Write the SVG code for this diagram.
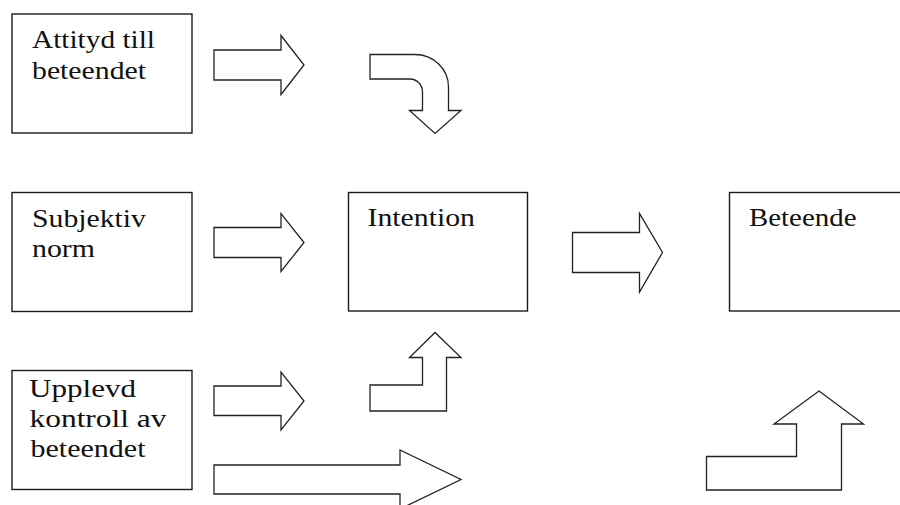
<svg xmlns="http://www.w3.org/2000/svg" width="900" height="505" viewBox="0 0 900 505">
<style>
.box{fill:#fff;stroke:#1a1a1a;stroke-width:1.4}
.arr{fill:#fff;stroke:#222;stroke-width:1.3;stroke-linejoin:miter}
text{font-family:"Liberation Serif","Times New Roman",serif;font-size:25px;fill:#111}
</style>
<rect width="900" height="505" fill="#fff"/>
<g id="attityd">
<rect class="box" x="12" y="14" width="180" height="119"/>
<text x="32" y="48" textLength="123" lengthAdjust="spacingAndGlyphs">Attityd till</text>
<text x="32" y="79" textLength="114" lengthAdjust="spacingAndGlyphs">beteendet</text>
</g>
<g id="subjektiv">
<rect class="box" x="12" y="192.5" width="180" height="119"/>
<text x="32" y="226.5" textLength="114" lengthAdjust="spacingAndGlyphs">Subjektiv</text>
<text x="32" y="257" textLength="63" lengthAdjust="spacingAndGlyphs">norm</text>
</g>
<g id="upplevd">
<rect class="box" x="12" y="370.5" width="180" height="119"/>
<text x="29" y="397" textLength="107" lengthAdjust="spacingAndGlyphs">Upplevd</text>
<text x="29.5" y="426.5" textLength="137" lengthAdjust="spacingAndGlyphs">kontroll av</text>
<text x="30.5" y="456.5" textLength="115" lengthAdjust="spacingAndGlyphs">beteendet</text>
</g>
<g id="intention">
<rect class="box" x="348.5" y="192.5" width="179" height="118.5"/>
<text x="367.5" y="225.5" textLength="107.5" lengthAdjust="spacingAndGlyphs">Intention</text>
</g>
<g id="beteende">
<rect class="box" x="729.5" y="192.5" width="180" height="118.5"/>
<text x="749" y="225.5" textLength="107.5" lengthAdjust="spacingAndGlyphs">Beteende</text>
</g>
<g id="connectors">
<polygon class="arr" points="214,50 281,50 281,35.5 304,65 281,94.5 281,80 214,80"/>
<polygon class="arr" points="214,227.5 281,227.5 281,213.5 304,242.5 281,271.5 281,257.5 214,257.5"/>
<polygon class="arr" points="214,386 281,386 281,372 304,401 281,430 281,415.5 214,415.5"/>
<polygon class="arr" points="214,465 400,465 400,450 461,479.5 400,509 400,494 214,494"/>
<path class="arr" d="M370,54.5 L415,54.5 A33.5,32.5 0 0 1 448.5,87 L448.5,110.5 L461,110.5 L435,133.5 L409.5,110.5 L422.5,110.5 L422.5,92 A12.5,13 0 0 0 410,79 L370,79 Z"/>
<polygon class="arr" points="370,385 422.5,385 422.5,357.5 409.5,357.5 435,332.5 461,357.5 446.5,357.5 446.5,411 370,411"/>
<polygon class="arr" points="572.5,232.5 639.5,232.5 639.5,213.5 662.5,252.5 639.5,292 639.5,272.5 572.5,272.5"/>
<polygon class="arr" points="706.5,456.5 796.5,456.5 796.5,424 774,424 819,391 863.5,424 841.5,424 841.5,490 706.5,490"/>
</g>
</svg>
